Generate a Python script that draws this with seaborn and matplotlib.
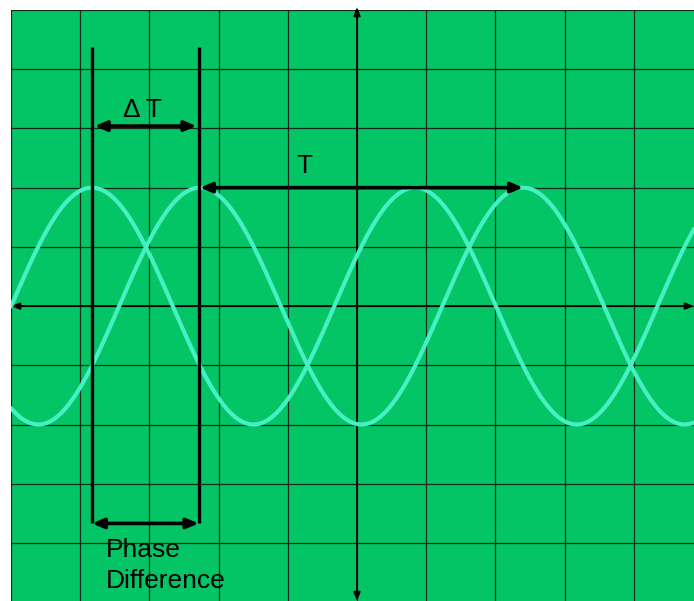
import numpy as np
import pandas as pd
import seaborn as sns
import matplotlib.pyplot as plt

# waveform parameters (grid divisions)
amplitude = 2.0
period = 4.67
peak_a = -3.83   # first peak of leading wave
peak_b = -2.27   # first peak of lagging wave

# marker / annotation positions (divisions)
marker_x = [-3.83, -2.29]
marker_top = 4.37
marker_bottom = -3.67
dt_y = 3.04
t_y = 2.0
pd_y = -3.67

sns.set_style("white", {"axes.facecolor": "#03c566"})
plt.rcParams['font.family'] = ['Liberation Sans', 'DejaVu Sans']

fig = plt.figure(figsize=(6.94, 6.01), dpi=100)
ax = fig.add_axes([11 / 694, 0, 683 / 694, 591 / 601])

x = np.linspace(-5, 4.87, 800)
df = pd.DataFrame({
    "x": np.concatenate([x, x]),
    "volts": np.concatenate([amplitude * np.cos(2 * np.pi * (x - peak_a) / period),
                             amplitude * np.cos(2 * np.pi * (x - peak_b) / period)]),
    "wave": ["A"] * len(x) + ["B"] * len(x),
})
sns.lineplot(data=df, x="x", y="volts", hue="wave", palette=["#46f0c2", "#46f0c2"],
             linewidth=3.0, legend=False, ax=ax, zorder=3)

ax.set_xlim(-5, 4.87)
ax.set_ylim(-4.98, 5)
ax.set_xticks(range(-5, 5))
ax.set_yticks(range(-4, 6))
ax.set_xticklabels([])
ax.set_yticklabels([])
ax.set_xlabel("")
ax.set_ylabel("")
ax.grid(True, color="#152a1a", linewidth=0.9)
ax.tick_params(direction="in", length=5, color="#152a1a")
for s in ax.spines.values():
    s.set_visible(False)

# centre axes with arrows
ax.annotate("", xy=(0, 5.05), xytext=(0, -4.98), annotation_clip=False,
            arrowprops=dict(arrowstyle="<|-|>,head_length=0.5,head_width=0.2", color="black",
                            lw=1.3, shrinkA=0, shrinkB=0), zorder=2)
ax.annotate("", xy=(4.87, 0), xytext=(-5, 0), annotation_clip=False,
            arrowprops=dict(arrowstyle="<|-|>,head_length=0.5,head_width=0.2", color="black",
                            lw=1.3, shrinkA=0, shrinkB=0), zorder=2)

# phase markers
for mx in marker_x:
    ax.plot([mx, mx], [marker_bottom, marker_top], color="black", lw=2.4, zorder=4,
            solid_capstyle="butt")

arrow = dict(arrowstyle="<|-|>,head_length=0.7,head_width=0.3", color="black",
             lw=2.6, shrinkA=0, shrinkB=0)
ax.annotate("", xy=(marker_x[1] - 0.03, dt_y), xytext=(marker_x[0] + 0.04, dt_y),
            arrowprops=arrow, zorder=5)
ax.annotate("", xy=(peak_b + period, t_y), xytext=(peak_b, t_y),
            arrowprops=arrow, zorder=5)
ax.annotate("", xy=(marker_x[1], pd_y), xytext=(marker_x[0], pd_y),
            arrowprops=arrow, zorder=5)

ax.text(-3.38, 3.19, "Δ T", fontsize=19, color="black", ha="left", va="baseline", zorder=6)
ax.text(-0.87, 2.25, "T", fontsize=19, color="black", ha="left", va="baseline", zorder=6)
ax.text(-3.63, -4.76, "Phase\nDifference", fontsize=19, color="black", ha="left",
        va="baseline", linespacing=1.36, zorder=6)

fig.savefig("out.png", dpi=100, facecolor="white")
